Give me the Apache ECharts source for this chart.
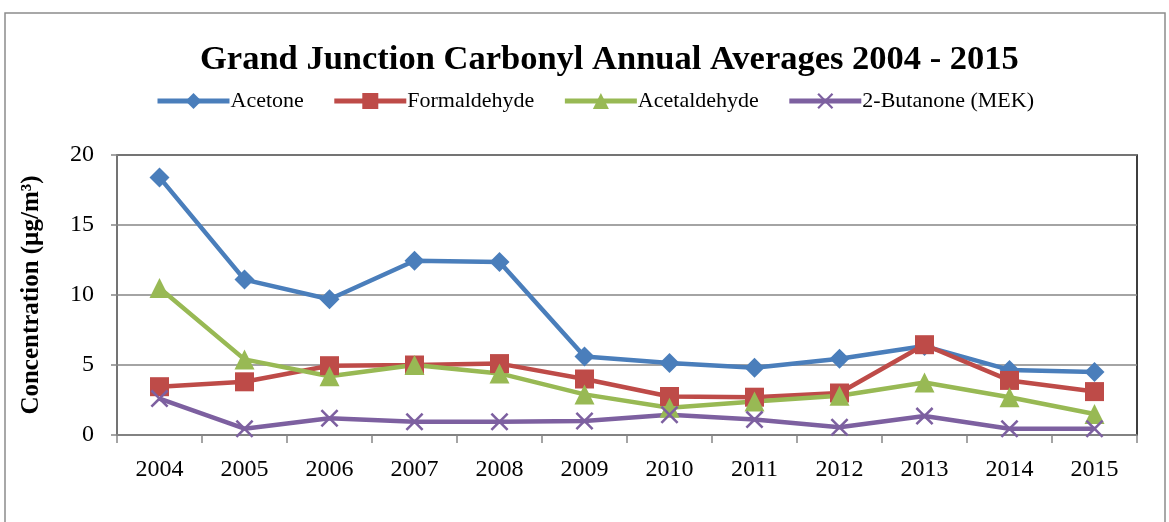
<!DOCTYPE html>
<html>
<head>
<meta charset="utf-8">
<script src="https://cdn.jsdelivr.net/npm/echarts@6/dist/echarts.min.js"></script>
<style>
  html, body { margin: 0; padding: 0; background: #fff; }
  #chart { width: 1169px; height: 522px; }
</style>
</head>
<body>
<div id="chart"></div>
<script>
// data
const years = ['2004', '2005', '2006', '2007', '2008', '2009', '2010', '2011', '2012', '2013', '2014', '2015'];
const acetone = [18.4, 11.1, 9.7, 12.45, 12.35, 5.6, 5.15, 4.8, 5.45, 6.35, 4.65, 4.5];
const formaldehyde = [3.45, 3.8, 4.95, 5.0, 5.1, 4.0, 2.75, 2.7, 3.0, 6.45, 3.9, 3.1];
const acetaldehyde = [10.5, 5.4, 4.2, 5.0, 4.4, 2.9, 1.95, 2.4, 2.8, 3.75, 2.7, 1.5];
const mek = [2.6, 0.45, 1.2, 0.95, 0.95, 1.0, 1.45, 1.1, 0.55, 1.35, 0.45, 0.45];

const serif = '"Liberation Serif", "Times New Roman", serif';
const crossPath = 'path://M0,1L1,0L5,4L9,0L10,1L6,5L10,9L9,10L5,6L1,10L0,9L4,5Z';

const makeSeries = (name, data, color, symbol, size) => ({
  name: name,
  type: 'line',
  data: data,
  symbol: symbol,
  symbolSize: size,
  lineStyle: { width: 4.5, color: color },
  itemStyle: { color: color },
  emphasis: { disabled: true }
});

const myChart = echarts.init(document.getElementById('chart'));
const option = {
  animation: false,
  graphic: [
    {
      type: 'rect',
      shape: { x: 5, y: 13, width: 1160, height: 520 },
      style: { fill: 'none', stroke: '#8c8c8c', lineWidth: 1.5 },
      silent: true
    }
  ],
  title: {
    text: 'Grand Junction Carbonyl Annual Averages 2004 - 2015',
    left: 195,
    top: 38,
    textStyle: { fontFamily: serif, fontSize: 34.5, fontWeight: 'bold', color: '#000' }
  },
  legend: {
    top: 85,
    left: 150,
    itemWidth: 72,
    itemHeight: 20,
    itemGap: 28,
    lineStyle: { width: 5 },
    textStyle: { fontFamily: serif, fontSize: 22, color: '#000', padding: [0, 0, 0, -4] },
    data: ['Acetone', 'Formaldehyde', 'Acetaldehyde', '2-Butanone (MEK)']
  },
  grid: {
    left: 117,
    right: 32,
    top: 155,
    bottom: 87,
    show: true,
    borderColor: '#000',
    borderWidth: 1.5
  },
  xAxis: {
    type: 'category',
    data: years,
    boundaryGap: true,
    axisLine: { lineStyle: { color: '#868686', width: 1.5 } },
    axisTick: { show: true, length: 8, interval: 0, lineStyle: { color: '#868686', width: 1.5 } },
    axisLabel: { fontFamily: serif, fontSize: 24, color: '#000', margin: 23 }
  },
  yAxis: {
    type: 'value',
    min: 0,
    max: 20,
    interval: 5,
    name: 'Concentration (µg/m³)',
    nameLocation: 'middle',
    nameGap: 73,
    nameTextStyle: { fontFamily: serif, fontSize: 25, fontWeight: 'bold', color: '#000' },
    axisLine: { show: true, lineStyle: { color: '#868686', width: 1.5 } },
    axisTick: { show: true, length: 6, lineStyle: { color: '#868686', width: 1.5 } },
    axisLabel: { fontFamily: serif, fontSize: 24, color: '#000', margin: 23 },
    splitLine: { lineStyle: { color: '#868686', width: 1.5 } }
  },
  series: [
    makeSeries('Acetone', acetone, '#4A7EBB', 'diamond', 20),
    makeSeries('Formaldehyde', formaldehyde, '#BE4B48', 'rect', 19),
    makeSeries('Acetaldehyde', acetaldehyde, '#98B954', 'triangle', 20),
    makeSeries('2-Butanone (MEK)', mek, '#7D60A0', crossPath, 18)
  ]
};
myChart.setOption(option);
</script>
</body>
</html>
